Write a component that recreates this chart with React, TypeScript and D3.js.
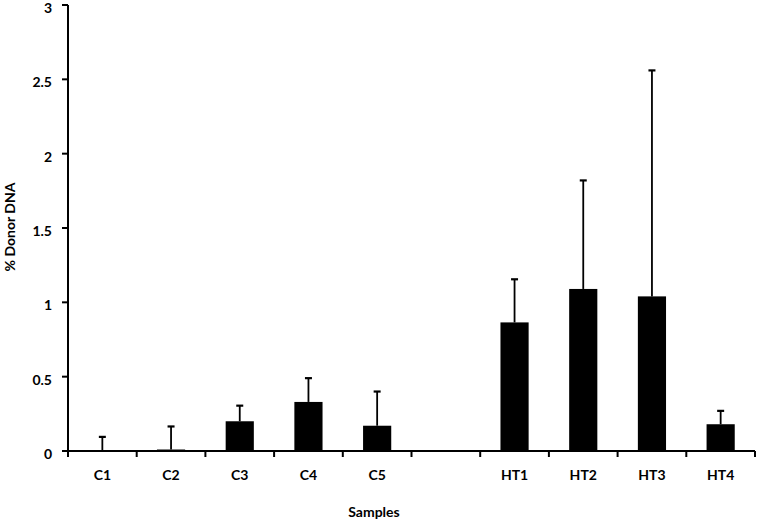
import React from "react";
import * as d3 from "d3";

const categories = ["C1", "C2", "C3", "C4", "C5", "", "HT1", "HT2", "HT3", "HT4"];
const means = [0, 0.01, 0.2, 0.33, 0.17, null, 0.865, 1.09, 1.04, 0.18];
const errors = [0.095, 0.155, 0.105, 0.16, 0.23, null, 0.29, 0.73, 1.52, 0.09];
const yTicks = [0, 0.5, 1, 1.5, 2, 2.5, 3];

const W = 758;
const H = 522;
const M = { left: 68, right: 3, top: 5, bottom: 71 };
const FONT = "Lato, 'Open Sans', sans-serif";

export default function App() {
  const x = d3
    .scaleBand<number>()
    .domain(d3.range(categories.length))
    .range([M.left, W - M.right])
    .paddingInner(0)
    .paddingOuter(0);
  const y = d3.scaleLinear().domain([0, 3]).range([H - M.bottom, M.top]);
  const bw = x.bandwidth();
  const barW = bw * 0.41;
  const capW = 7;

  return (
    <svg
      width={W}
      height={H}
      style={{ position: "absolute", left: 0, top: 0, background: "#fff" }}
      fontFamily={FONT}
    >
      {/* bars */}
      {means.map((m, i) =>
        m === null ? null : (
          <rect
            key={"b" + i}
            x={(x(i) as number) + bw / 2 - barW / 2}
            y={y(m)}
            width={barW}
            height={y(0) - y(m)}
            fill="#000"
          />
        )
      )}
      {/* error bars */}
      {means.map((m, i) => {
        const e = errors[i];
        if (m === null || e === null) return null;
        const cx = (x(i) as number) + bw / 2;
        return (
          <g key={"e" + i} stroke="#000" strokeWidth={1.8}>
            <line x1={cx} x2={cx} y1={y(m)} y2={y(m + e)} />
            <line x1={cx - capW / 2} x2={cx + capW / 2} y1={y(m + e)} y2={y(m + e)} strokeWidth={2.2} />
          </g>
        );
      })}
      {/* y axis */}
      <line x1={M.left} x2={M.left} y1={y(3)} y2={y(0)} stroke="#000" strokeWidth={2} />
      {yTicks.map((t) => (
        <g key={"yt" + t}>
          <line x1={M.left - 6} x2={M.left} y1={y(t)} y2={y(t)} stroke="#000" strokeWidth={2} />
          <text
            x={M.left - 16}
            y={y(t) + 3}
            dy="0.36em"
            textAnchor="end"
            fontSize={14}
            fontWeight="bold"
            fill="#000"
          >
            {String(t)}
          </text>
        </g>
      ))}
      {/* x axis */}
      <line x1={M.left - 6} x2={W - M.right} y1={y(0)} y2={y(0)} stroke="#000" strokeWidth={2} />
      {d3.range(categories.length + 1).map((i) => {
        const xx = i < categories.length ? (x(i) as number) : W - M.right;
        return (
          <line key={"xt" + i} x1={xx} x2={xx} y1={y(0)} y2={y(0) + 6} stroke="#000" strokeWidth={2} />
        );
      })}
      {categories.map((c, i) => (
        <text
          key={"xl" + i}
          x={(x(i) as number) + bw / 2}
          y={475}
          dy="0.36em"
          textAnchor="middle"
          fontSize={14}
          fontWeight="bold"
          fill="#000"
        >
          {c}
        </text>
      ))}
      <text x={374} y={512} dy="0.36em" textAnchor="middle" fontSize={14} fontWeight="bold" fill="#000">
        Samples
      </text>
      <text
        transform={`translate(10, ${227}) rotate(-90)`}
        dy="0.36em"
        textAnchor="middle"
        fontSize={14}
        fontWeight="bold"
        fill="#000"
      >
        % Donor DNA
      </text>
    </svg>
  );
}
